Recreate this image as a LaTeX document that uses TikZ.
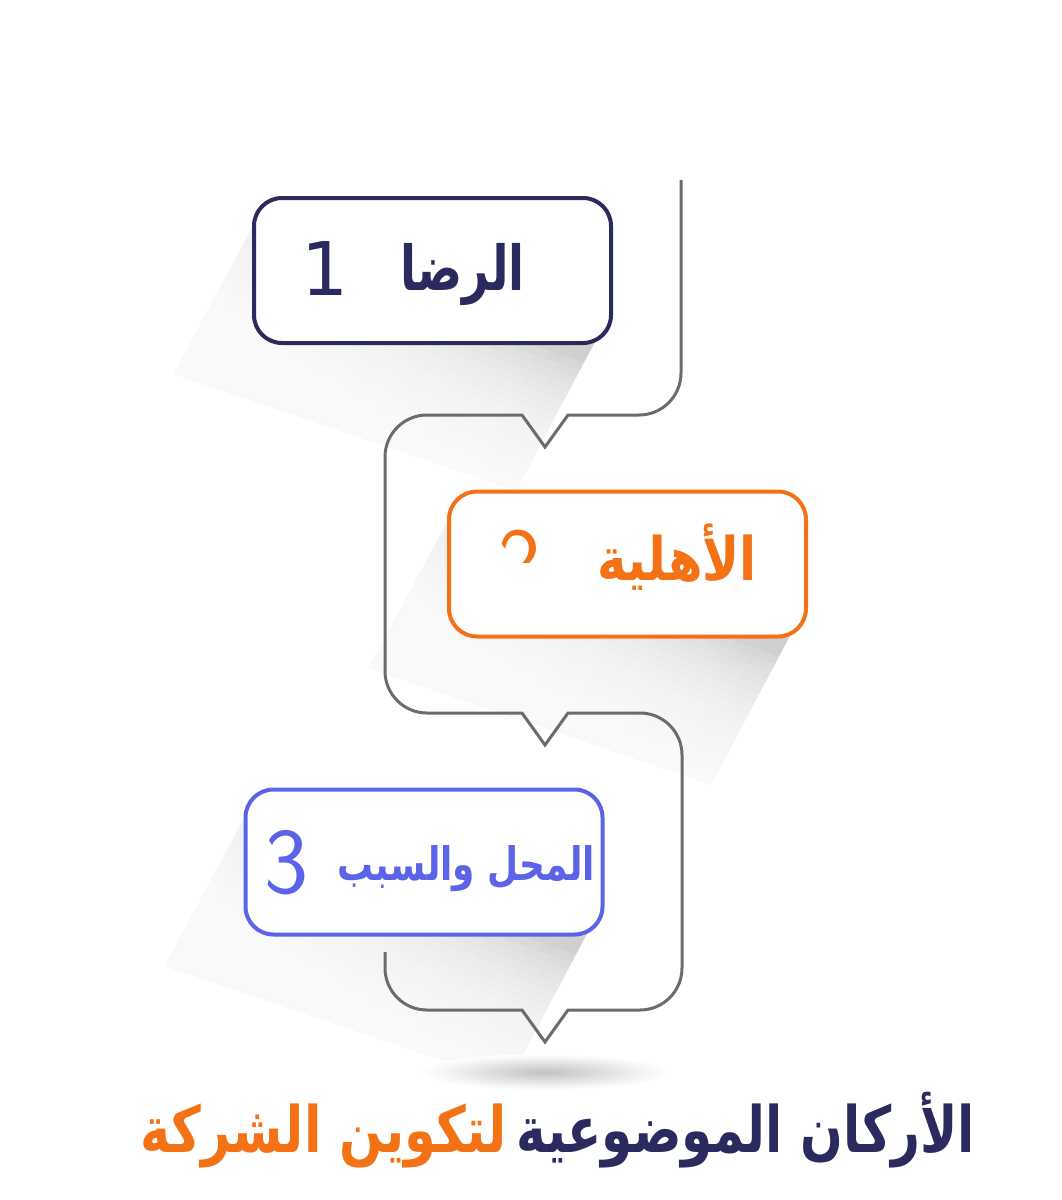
\documentclass[tikz,border=0pt]{standalone}
\usepackage{fontspec}
\usetikzlibrary{calc}
\TeXXeTstate=1
\newfontfamily\arabicfont[Script=Arabic]{DejaVu Sans}
\newfontfamily\digitfont{DejaVu Sans}
\newcommand\thinfont{\sffamily}
\definecolor{navy}{HTML}{2B2A5E}
\definecolor{orng}{HTML}{F47216}
\definecolor{blu}{HTML}{5B63E8}
\definecolor{linegray}{HTML}{6B6B6B}
\pgfdeclareradialshading{softglow}{\pgfpointorigin}{color(0bp)=(black!24); color(10bp)=(black!14); color(20bp)=(black!4); color(25bp)=(white); color(50bp)=(white)}
\newcommand\mylongshadow[4]{%
  \path[top color=black!5, bottom color=black!19, shading angle=65]
    (#1,#2) -- ++(-80,150) -- ($(#3,#4)+(-80,150)$) -- (#3,#4) -- cycle;
  \foreach \t in {0.15,0.2,...,0.99}{%
    \fill[white, opacity=0.15] ($(#1,#2)+\t*(-80,150)$) -- ($(#1,#2)+(-80,150)$)
      -- ($(#3,#4)+(-80,150)$) -- ($(#3,#4)+\t*(-80,150)$) -- cycle;}%
}
\begin{document}
\begin{tikzpicture}[x=1pt,y=-1pt,
  card/.style={draw, line width=4pt, rounded corners=28pt, fill=white,
    minimum width=357pt, minimum height=145pt, inner sep=0pt},
  conn/.style={draw=linegray, line width=3pt, line join=miter},
  lbl/.style={inner sep=0pt, anchor=base},
  num/.style={inner sep=0pt, anchor=base}]
\useasboundingbox (0,0) rectangle (1062,1200);
% shadows
\mylongshadow{254}{224}{596}{340}
\mylongshadow{449}{518}{791}{634}
\mylongshadow{245}{816}{588}{932}
\shade[shading=softglow] (545,1072) ellipse [x radius=125, y radius=18];
% connector
\coordinate (cstart) at (681,180);
\coordinate (cend) at (385,952);
\draw[conn] (cstart) -- (681,373) .. controls (681,396.2) and (662.2,415) .. (639,415)
  -- (568,415) -- (545,447) -- (522,415) -- (427,415)
  .. controls (403.8,415) and (385,433.8) .. (385,457) -- (385,671)
  .. controls (385,694.2) and (403.8,713) .. (427,713) -- (522,713) -- (545,745) -- (568,713) -- (640,713)
  .. controls (663.2,713) and (682,731.8) .. (682,755) -- (682,968)
  .. controls (682,991.2) and (663.2,1010) .. (640,1010) -- (568,1010) -- (545,1042) -- (522,1010) -- (427,1010)
  .. controls (403.8,1010) and (385,991.2) .. (385,968) -- (cend);
% cards
\node[card, draw=navy] (b1) at (432.5,270.5) {};
\node[card, draw=orng] (b2) at (627.5,564) {};
\node[card, draw=blu] (b3) at (424,862) {};
% labels
\node[lbl, text=navy, font=\arabicfont\bfseries\fontsize{62}{70}\selectfont] (t1) at (462.5,290)
  {\resizebox{125pt}{\height}{\beginR الرضا\endR}};
\node[num, text=navy, font=\digitfont\fontsize{74}{80}\selectfont] (n1) at (325,295) {1};
\node[lbl, text=orng, font=\arabicfont\bfseries\fontsize{60}{66}\selectfont] (t2) at (677,580)
  {\resizebox{160pt}{\height}{\beginR الأهلية\endR}};
\node[num, text=orng, font=\thinfont\fontsize{90}{94}\selectfont] (n2) at (520,590) {2};
\fill[white] (478,563) rectangle (548,633);
\node[lbl, text=blu, font=\arabicfont\bfseries\fontsize{46}{52}\selectfont] (t3) at (466.5,880)
  {\resizebox{257pt}{\height}{\beginR المحل والسبب\endR}};
\node[num, text=blu, font=\thinfont\fontsize{94}{98}\selectfont] (n3) at (286.5,893) {3};
% title
\node[lbl, anchor=base east, text=navy, font=\arabicfont\bfseries\fontsize{64}{70}\selectfont] (title1) at (975,1152)
  {\resizebox{458pt}{\height}{\beginR الأركان الموضوعية\endR}};
\node[lbl, anchor=base east, text=orng, font=\arabicfont\bfseries\fontsize{64}{70}\selectfont] (title2) at ([xshift=-10pt]title1.base west)
  {\resizebox{366pt}{\height}{\beginR لتكوين الشركة\endR}};
\end{tikzpicture}
\end{document}
